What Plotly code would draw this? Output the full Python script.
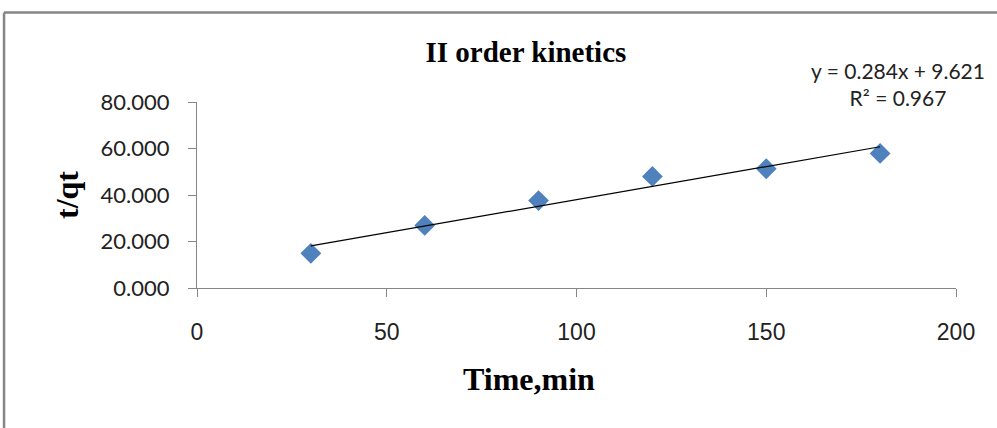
import plotly.graph_objects as go

# Second-order kinetics: time vs t/qt
time_min = [30, 60, 90, 120, 150, 180]
t_over_qt = [14.9, 26.9, 37.6, 48.0, 51.3, 57.9]

# Linear trendline reported for the series
slope = 0.284
intercept = 9.621
r_squared = 0.967

x_ticks = [0, 50, 100, 150, 200]
y_ticks = [0, 20, 40, 60, 80]

fit_x = [min(time_min), max(time_min)]
fit_y = [slope * x + intercept for x in fit_x]

fig = go.Figure()

fig.add_trace(go.Scatter(
    x=time_min, y=t_over_qt, mode="markers",
    marker=dict(symbol="diamond", size=16, color="#4F81BD"),
    showlegend=False,
))
fig.add_trace(go.Scatter(
    x=fit_x, y=fit_y, mode="lines",
    line=dict(color="#000000", width=1.2),
    showlegend=False,
))

axis_common = dict(
    showgrid=False, zeroline=False, showline=True,
    linecolor="#868686", linewidth=1.3,
    ticks="outside", ticklen=8, tickcolor="#868686", tickwidth=1.3,
)

fig.update_xaxes(
    range=[0, 200], tickvals=x_ticks,
    ticktext=[str(v) for v in x_ticks],
    tickfont=dict(family="Liberation Sans Narrow, Arial Narrow, sans-serif", size=23, color="#222222"),
    ticklabelstandoff=15,
    **axis_common,
)
fig.update_yaxes(
    range=[0, 80], tickvals=y_ticks,
    ticktext=[f"{v:.3f}" for v in y_ticks],
    tickfont=dict(family="Lato, sans-serif", size=22, color="#222222"),
    ticklabelstandoff=14,
    title=dict(text="<b>t/qt</b>", font=dict(family="Liberation Serif", size=32, color="#000000"), standoff=12),
    **axis_common,
)

fig.update_layout(
    width=997, height=428,
    margin=dict(l=197, r=41, t=102, b=140),
    paper_bgcolor="white", plot_bgcolor="white",
    title=dict(
        text="<b>II order kinetics</b>",
        font=dict(family="Liberation Serif", size=29, color="#000000"),
        x=0.5275, xanchor="center", y=0.88, yanchor="middle",
    ),
    font=dict(family="Lato, sans-serif"),
    annotations=[
        dict(
            text=f"y = {slope}x + {intercept}<br>R² = {r_squared}",
            xref="paper", yref="paper", x=0.923, y=1.097, xanchor="center", yanchor="middle",
            showarrow=False, align="center",
            font=dict(family="Lato, sans-serif", size=21, color="#222222"),
        ),
        dict(
            text="<b>Time,min</b>",
            xref="paper", yref="paper", x=0.437, y=-0.491, xanchor="center", yanchor="middle",
            showarrow=False,
            font=dict(family="Liberation Serif", size=32, color="#000000"),
        ),
    ],
    shapes=[
        dict(type="line", xref="paper", yref="paper", x0=-0.2542, x1=-0.2542, y0=-1.0, y1=1.4807,
             line=dict(color="#868686", width=2.5)),
        dict(type="line", xref="paper", yref="paper", x0=-0.2542, x1=1.2, y0=1.4807, y1=1.4807,
             line=dict(color="#868686", width=2.5)),
    ],
)

fig.write_html("out.html")
